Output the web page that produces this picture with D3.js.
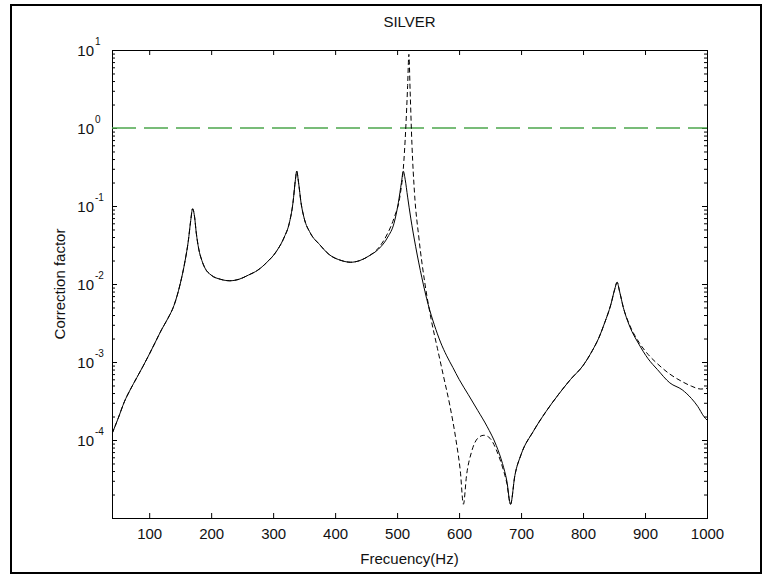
<!DOCTYPE html>
<html>
<head>
<meta charset="utf-8">
<script src="https://cdn.jsdelivr.net/npm/d3@7"></script>
<style>
  body { margin: 0; background: #fff; }
  text { font-family: "Liberation Sans", Arial, sans-serif; fill: #111; }
</style>
</head>
<body>
<div id="chart"></div>
<script>
// data
var freqSolid = [40, 50, 60, 70, 80, 90, 100, 110, 120, 130, 140, 150, 158, 163, 167, 170, 173, 176, 180, 185,
    190, 200, 215, 230, 245, 260, 275, 290, 305, 318, 326, 332, 336, 338, 341, 345, 350, 360, 375, 390,
    410, 425, 440, 455, 470, 485, 495, 502, 507, 510, 513, 517, 522, 530, 540, 550, 560, 570, 580, 590,
    600, 615, 630, 645, 660, 670, 677, 683, 690, 700, 720, 740, 760, 780, 800, 815, 825, 835, 845, 851,
    855, 859, 865, 875, 890, 905, 920, 940, 960, 975, 985, 995, 1000];
var solid = [1.2e-4, 1.9e-4, 3.1e-4, 4.5e-4, 6.3e-4, 8.8e-4, 1.25e-3, 1.8e-3, 2.6e-3, 3.6e-3, 5.3e-3, 1.0e-2, 2.0e-2, 3.5e-2, 6.5e-2, 0.092, 0.075, 0.045, 0.028, 0.02,
    0.016, 0.013, 0.0115, 0.011, 0.0115, 0.013, 0.015, 0.019, 0.026, 0.04, 0.06, 0.11, 0.22, 0.28, 0.2, 0.11, 0.07, 0.045, 0.032, 0.024,
    0.02, 0.019, 0.02, 0.023, 0.028, 0.04, 0.06, 0.11, 0.2, 0.28, 0.22, 0.13, 0.07, 0.03, 0.012, 5.5e-3, 3.0e-3, 1.8e-3, 1.2e-3, 8.5e-4,
    6.0e-4, 3.8e-4, 2.4e-4, 1.5e-4, 8.5e-5, 5e-5, 3e-5, 1.5e-5, 3.5e-5, 6.5e-5, 1.3e-4, 2.3e-4, 3.8e-4, 6e-4, 9e-4, 1.4e-3, 2.0e-3, 3.2e-3, 5.5e-3, 8.5e-3,
    0.0105, 8e-3, 5e-3, 2.9e-3, 1.7e-3, 1.1e-3, 8e-4, 5.4e-4, 4.4e-4, 3.4e-4, 2.7e-4, 2.0e-4, 1.8e-4];

var freqDashed = [40, 50, 60, 70, 80, 90, 100, 110, 120, 130, 140, 150, 158, 163, 167, 170, 173, 176, 180, 185,
    190, 200, 215, 230, 245, 260, 275, 290, 305, 318, 326, 332, 336, 338, 341, 345, 350, 360, 375, 390,
    410, 425, 440, 455, 470, 485, 495, 505, 510, 514, 517, 519, 521, 524, 528, 535, 545, 555, 565, 575,
    585, 595, 602, 607, 612, 620, 630, 640, 650, 660, 670, 677, 683, 690, 700, 720, 740, 760, 780, 800,
    815, 825, 835, 845, 851, 855, 859, 865, 875, 890, 905, 920, 940, 960, 975, 990, 1000];
var dashed = [1.2e-4, 1.9e-4, 3.1e-4, 4.5e-4, 6.3e-4, 8.8e-4, 1.25e-3, 1.8e-3, 2.6e-3, 3.6e-3, 5.3e-3, 1.0e-2, 2.0e-2, 3.5e-2, 6.5e-2, 0.092, 0.075, 0.045, 0.028, 0.02,
    0.016, 0.013, 0.0115, 0.011, 0.0115, 0.013, 0.015, 0.019, 0.026, 0.04, 0.06, 0.11, 0.22, 0.28, 0.2, 0.11, 0.07, 0.045, 0.032, 0.024,
    0.02, 0.019, 0.02, 0.023, 0.029, 0.045, 0.07, 0.14, 0.3, 1.0, 3.5, 8.8, 3.0, 0.6, 0.15, 0.04, 0.01, 3.5e-3, 1.5e-3, 6.5e-4,
    2.8e-4, 1.0e-4, 4e-5, 1.5e-5, 3.5e-5, 7e-5, 1.05e-4, 1.15e-4, 1.05e-4, 7.5e-5, 4.5e-5, 2.8e-5, 1.5e-5, 3.5e-5, 6.5e-5, 1.3e-4, 2.3e-4, 3.8e-4, 6e-4, 9e-4,
    1.4e-3, 2.0e-3, 3.2e-3, 5.5e-3, 8.5e-3, 0.0105, 8e-3, 5e-3, 3.0e-3, 1.8e-3, 1.25e-3, 9.5e-4, 7e-4, 5.6e-4, 4.9e-4, 4.5e-4, 4.6e-4];

var refLine = [1, 1];
var xTicks = [100, 200, 300, 400, 500, 600, 700, 800, 900, 1000];
var yExponents = [1, 0, -1, -2, -3, -4];

var width = 766;
var height = 578;
var margin = {left: 112, right: 59, top: 50, bottom: 60};

var svg = d3.select("#chart").append("svg")
    .attr("width", width)
    .attr("height", height);

svg.append("rect").attr("width", width).attr("height", height).attr("fill", "#fff");

// figure frame
svg.append("rect")
    .attr("x", 11).attr("y", 5)
    .attr("width", 750).attr("height", 568)
    .attr("fill", "none").attr("stroke", "#000").attr("stroke-width", 2);

var x = d3.scaleLinear()
    .domain([40, 1000])
    .range([margin.left, width - margin.right]);

var y = d3.scaleLog()
    .domain([1.0e-5, 10])
    .range([height - margin.bottom, margin.top]);

var plotW = x.range()[1] - x.range()[0];
var plotH = y.range()[0] - y.range()[1];

// axes box with inward ticks on all four sides
var minor = [];
for (var e = -5; e < 1; e++) {
    for (var m = 2; m <= 9; m++) minor.push(m * Math.pow(10, e));
}
var majors = yExponents.map(d => Math.pow(10, d));

var bottomAxis = d3.axisBottom(x).tickValues(xTicks).tickSize(-5).tickPadding(10).tickFormat(d3.format("d"));
var topAxis = d3.axisTop(x).tickValues(xTicks).tickSize(-5).tickFormat("");
var leftMajor = d3.axisLeft(y).tickValues(majors).tickSize(-5).tickFormat("");
var leftMinor = d3.axisLeft(y).tickValues(minor).tickSize(-3).tickFormat("");
var rightMajor = d3.axisRight(y).tickValues(majors).tickSize(-5).tickFormat("");
var rightMinor = d3.axisRight(y).tickValues(minor).tickSize(-3).tickFormat("");

var gb = svg.append("g").attr("transform", "translate(0," + y.range()[0] + ")").call(bottomAxis);
svg.append("g").attr("transform", "translate(0," + y.range()[1] + ")").call(topAxis);
svg.append("g").attr("transform", "translate(" + x.range()[0] + ",0)").call(leftMajor);
svg.append("g").attr("transform", "translate(" + x.range()[0] + ",0)").call(leftMinor);
svg.append("g").attr("transform", "translate(" + x.range()[1] + ",0)").call(rightMajor);
svg.append("g").attr("transform", "translate(" + x.range()[1] + ",0)").call(rightMinor);

svg.selectAll(".domain").attr("stroke", "#000").attr("stroke-width", 1);
svg.selectAll(".tick line").attr("stroke", "#000");
gb.selectAll(".tick text")
    .style("font-size", "15px")
    .style("font-family", "Liberation Sans, Arial, sans-serif")
    .attr("fill", "#111");

// y tick labels as 10^n
var ylab = svg.append("g");
yExponents.forEach(function(n) {
    ylab.append("text")
        .attr("x", x.range()[0] - 18)
        .attr("y", y(Math.pow(10, n)) + 6)
        .attr("text-anchor", "end")
        .style("font-size", "15px")
        .text("10");
    ylab.append("text")
        .attr("x", x.range()[0] - 17)
        .attr("y", y(Math.pow(10, n)) - 5)
        .style("font-size", "10px")
        .text(n);
});

// reference line at 1
svg.append("line")
    .attr("x1", x(40)).attr("x2", x(1000))
    .attr("y1", y(refLine[0])).attr("y2", y(refLine[1]))
    .attr("stroke", "#4ca64c")
    .attr("stroke-width", 1.5)
    .attr("stroke-dasharray", "24,8");

svg.append("clipPath").attr("id", "clip")
    .append("rect")
    .attr("x", x.range()[0]).attr("y", y.range()[1])
    .attr("width", plotW).attr("height", plotH);

var line = d3.line()
    .x(d => x(d[0]))
    .y(d => y(d[1]))
    .curve(d3.curveMonotoneX);

svg.append("path")
    .datum(d3.zip(freqSolid, solid))
    .attr("clip-path", "url(#clip)")
    .attr("d", line)
    .attr("fill", "none")
    .attr("stroke", "#000")
    .attr("stroke-width", 1);

svg.append("path")
    .datum(d3.zip(freqDashed, dashed))
    .attr("clip-path", "url(#clip)")
    .attr("d", line)
    .attr("fill", "none")
    .attr("stroke", "#000")
    .attr("stroke-width", 1)
    .attr("stroke-dasharray", "5,3");

// title and axis labels
svg.append("text")
    .attr("x", (x.range()[0] + x.range()[1]) / 2)
    .attr("y", 27)
    .attr("text-anchor", "middle")
    .style("font-size", "15px")
    .text("SILVER");

svg.append("text")
    .attr("x", (x.range()[0] + x.range()[1]) / 2)
    .attr("y", 564)
    .attr("text-anchor", "middle")
    .style("font-size", "15px")
    .text("Frecuency(Hz)");

svg.append("text")
    .attr("transform", "translate(65," + (y.range()[0] + y.range()[1]) / 2 + ") rotate(-90)")
    .attr("text-anchor", "middle")
    .style("font-size", "15px")
    .text("Correction factor");
</script>
</body>
</html>
